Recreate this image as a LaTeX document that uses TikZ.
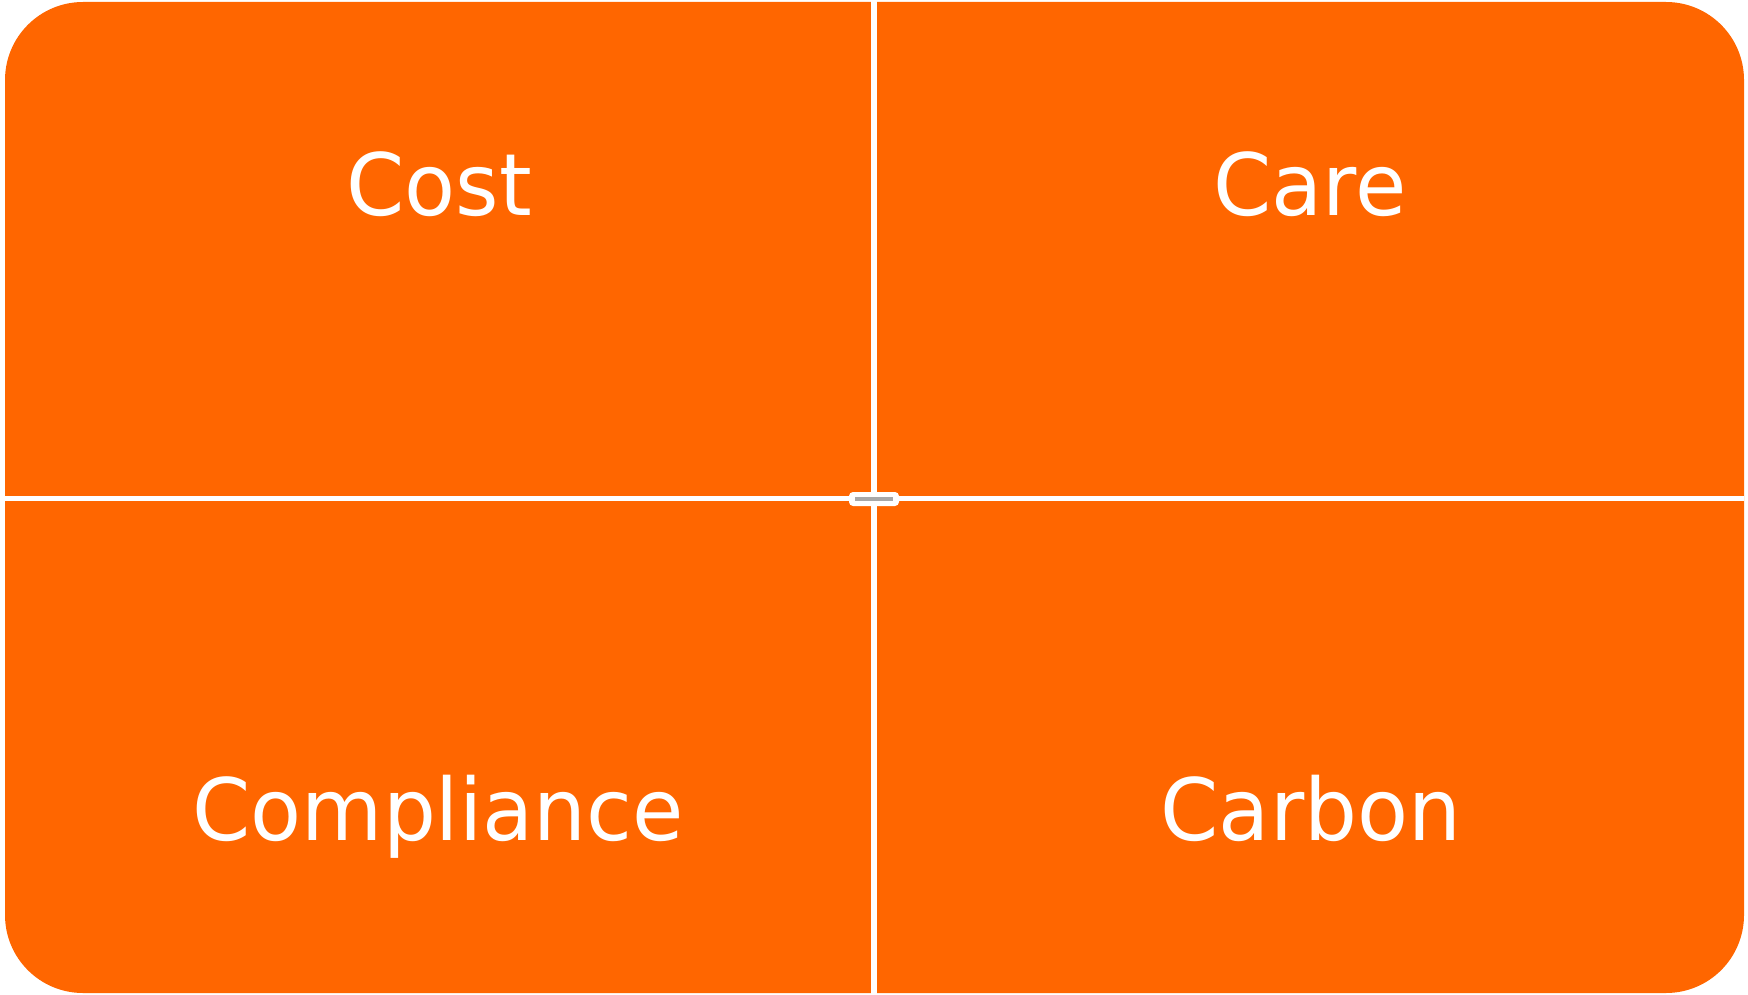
\documentclass[tikz,border=0pt]{standalone}
\usepackage{fontspec}
\setmainfont[FakeStretch=0.97]{DejaVu Sans}
\usetikzlibrary{
  shapes,
  positioning
}
\definecolor{quadorange}{HTML}{FF6600}
\definecolor{handlegray}{HTML}{A8A8A8}

\begin{document}
\begin{tikzpicture}[x=1pt,y=-1pt,
    label/.style = {text=white,anchor=base,inner sep=0pt,font=\fontsize{86}{90}\selectfont},
    divider/.style = {white,line width=6pt}]
    \useasboundingbox (0,0) rectangle (1748,995);
    \fill[quadorange,rounded corners=78pt] (5,2) rectangle (1744,993);

    \coordinate (top) at (874,0);
    \coordinate (bottom) at (874,995);
    \coordinate (left) at (5,498.5);
    \coordinate (right) at (1744,498.5);
    \draw[divider] (top) -- (bottom);
    \draw[divider,line width=5pt] (left) -- (right);

    \node[label] (cost) at (439,215) {Cost};
    \node[label] (care) at (1310,215) {Care};
    \node[label] (compliance) at (438,840) {Compliance};
    \node[label] (carbon) at (1311,840) {Carbon};

    \node[fill=white,rounded corners=4pt,minimum width=50pt,minimum height=14pt,inner sep=0pt] (handle) at (874,499) {};
    \node[fill=handlegray,minimum width=38pt,minimum height=4pt,inner sep=0pt] (grip) at (handle.center) {};
\end{tikzpicture}
\end{document}
